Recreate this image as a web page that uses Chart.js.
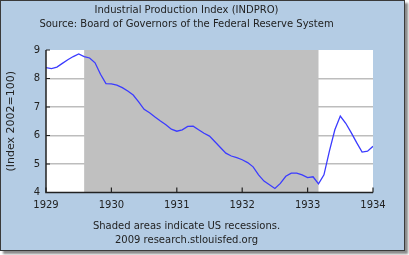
<!DOCTYPE html>
<html>
<head>
<meta charset="utf-8">
<script src="https://cdn.jsdelivr.net/npm/chart.js@4/dist/chart.umd.min.js"></script>
<style>
  html, body { margin: 0; padding: 0; background: #fff; }
  #frame {
    position: absolute; left: 0; top: 0;
    width: 403px; height: 249px;
    background: #b4cce4;
    border: 1px solid #3a3a3a;
    box-shadow: 3px 3px 2px #8a8a8a;
  }
  #wrap { position: absolute; left: 0; top: 0; width: 409px; height: 255px; }
</style>
</head>
<body>
<div id="frame"></div>
<div id="wrap"><canvas id="myChart" width="409" height="255"></canvas></div>
<script>
// monthly INDPRO, Jan 1929 .. Jan 1934
const startYear = 1929;
const indpro = [
  8.38, 8.35, 8.40, 8.53, 8.66, 8.77, 8.86, 8.77, 8.72, 8.55, 8.15, 7.82,
  7.81, 7.77, 7.68, 7.56, 7.42, 7.18, 6.92, 6.80, 6.65, 6.51, 6.38, 6.22,
  6.15, 6.20, 6.32, 6.33, 6.20, 6.08, 5.98, 5.78, 5.58, 5.38, 5.28, 5.22,
  5.15, 5.05, 4.90, 4.62, 4.40, 4.27, 4.14, 4.32, 4.57, 4.68, 4.68, 4.62,
  4.52, 4.55, 4.30, 4.62, 5.45, 6.20, 6.68, 6.43, 6.10, 5.75, 5.42, 5.45,
  5.62
];
const yearTicks = [1929, 1930, 1931, 1932, 1933, 1934];
const yTicks = [4, 5, 6, 7, 8, 9];
const recessionStart = [1929, 8]; // year, month
const recessionEnd = [1933, 3];

const points = indpro.map((v, i) => ({ x: startYear + i / 12, y: v }));
const toYear = (ym) => ym[0] + (ym[1] - 1) / 12;

const font = "'DejaVu Sans', Verdana, sans-serif";
const textColor = '#222';

const chartDecor = {
  id: 'chartDecor',
  beforeDraw(chart) {
    const { ctx, chartArea: a } = chart;
    ctx.save();
    ctx.fillStyle = '#fff';
    ctx.fillRect(a.left, a.top, a.right - a.left, a.bottom - a.top);
    ctx.restore();
  },
  beforeDatasetsDraw(chart) {
    const { ctx, chartArea: a, scales } = chart;
    const x0 = scales.x.getPixelForValue(toYear(recessionStart));
    const x1 = scales.x.getPixelForValue(toYear(recessionEnd));
    ctx.save();
    ctx.fillStyle = '#c0c0c0';
    ctx.fillRect(x0, a.top, x1 - x0, a.bottom - a.top);
    ctx.restore();
  },
  afterDatasetsDraw(chart) {
    const { ctx, chartArea: a, scales } = chart;
    ctx.save();
    ctx.strokeStyle = '#222';
    ctx.lineWidth = 1.5;
    ctx.beginPath();
    ctx.moveTo(a.left, a.top);
    ctx.lineTo(a.left, a.bottom);
    ctx.lineTo(a.right, a.bottom);
    ctx.stroke();
    ctx.lineWidth = 1.2;
    ctx.beginPath();
    yTicks.forEach(v => {
      const y = scales.y.getPixelForValue(v);
      ctx.moveTo(a.left, y);
      ctx.lineTo(a.left + 4, y);
    });
    yearTicks.forEach(v => {
      const x = scales.x.getPixelForValue(v);
      ctx.moveTo(x, a.bottom);
      ctx.lineTo(x, a.bottom - 5);
    });
    ctx.stroke();
    ctx.restore();
  }
};

const ctx = document.getElementById('myChart');
new Chart(ctx, {
  type: 'line',
  data: {
    datasets: [{
      data: points,
      borderColor: '#3b3bff',
      borderWidth: 1.3,
      pointRadius: 0,
      tension: 0,
      fill: false
    }]
  },
  options: {
    responsive: false,
    animation: false,
    events: [],
    layout: { padding: { left: 0, right: 36, top: 0, bottom: 0 } },
    plugins: {
      legend: { display: false },
      tooltip: { enabled: false },
      title: {
        display: true,
        text: ['Industrial Production Index (INDPRO)', 'Source: Board of Governors of the Federal Reserve System'],
        color: textColor,
        font: { family: font, size: 10, weight: 'normal', lineHeight: '13.7px' },
        padding: { top: 4, bottom: 18.6 }
      },
      subtitle: {
        display: true,
        position: 'bottom',
        text: ['Shaded areas indicate US recessions.', '2009 research.stlouisfed.org'],
        color: textColor,
        font: { family: font, size: 10, weight: 'normal', lineHeight: '14px' },
        padding: { top: 0, bottom: 7.5 }
      }
    },
    scales: {
      x: {
        type: 'linear',
        min: 1929,
        max: 1934,
        afterBuildTicks: (s) => { s.ticks = yearTicks.map(v => ({ value: v })); },
        afterFit: (s) => { s.height = 27; },
        ticks: {
          color: textColor,
          font: { family: font, size: 10 },
          padding: 7,
          maxRotation: 0,
          callback: (v) => String(v)
        },
        grid: { display: false, drawTicks: false },
        border: { display: false }
      },
      y: {
        min: 4,
        max: 9,
        afterBuildTicks: (s) => { s.ticks = yTicks.map(v => ({ value: v })); },
        afterFit: (s) => { s.width = 46; },
        ticks: {
          color: textColor,
          font: { family: font, size: 10 },
          padding: 6
        },
        grid: {
          drawTicks: false,
          color: (c) => (c.tick && c.tick.value > 4 && c.tick.value < 9) ? '#bdbdbd' : 'rgba(0,0,0,0)',
          lineWidth: 1.5
        },
        border: { display: false },
        title: {
          display: true,
          text: '(Index 2002=100)',
          color: textColor,
          font: { family: font, size: 11 },
          padding: { top: 5, bottom: 0 }
        }
      }
    }
  },
  plugins: [chartDecor]
});
</script>
</body>
</html>
